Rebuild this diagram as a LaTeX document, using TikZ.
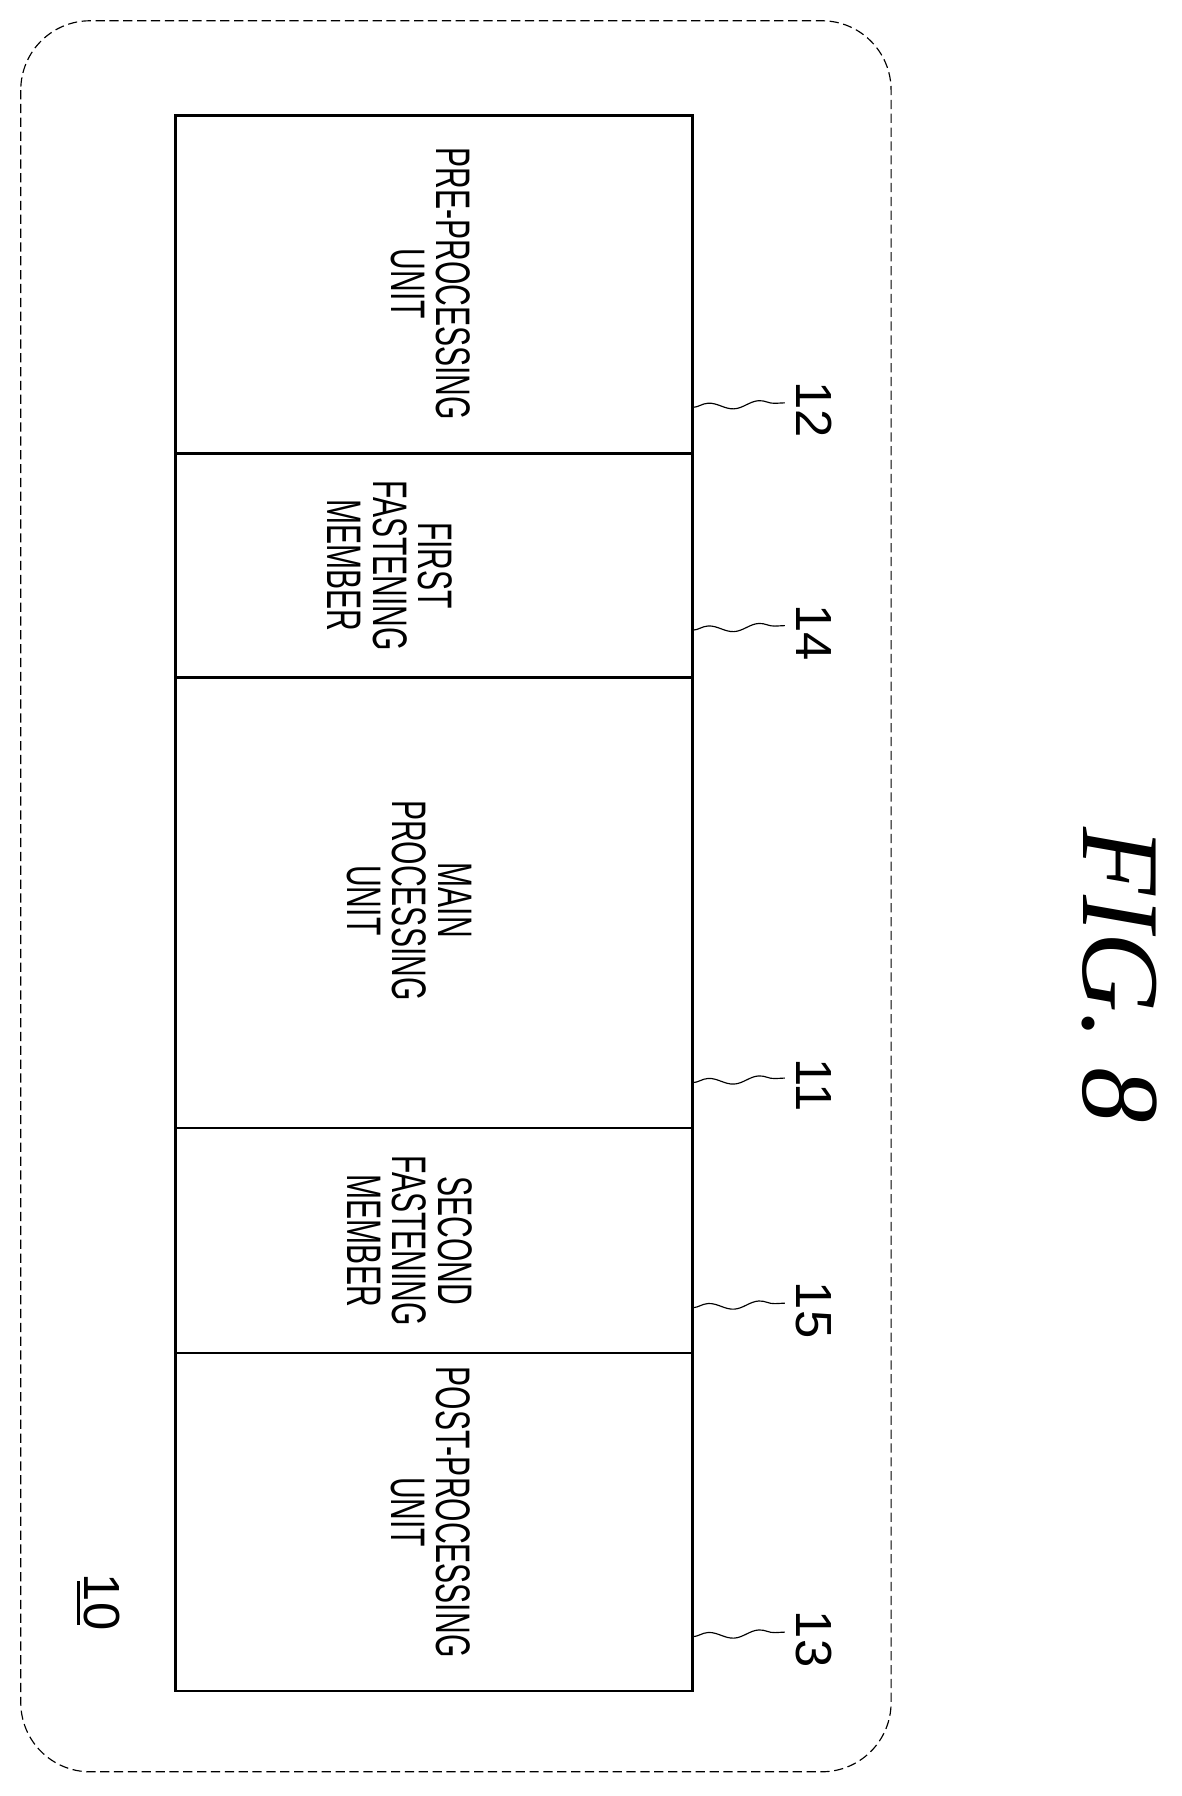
\documentclass[tikz,border=0pt]{standalone}
\usepackage{fontspec}
\setmainfont{Liberation Sans}
\newfontfamily\figfont{Liberation Serif}
\usetikzlibrary{decorations.pathmorphing}
\newcommand{\cond}[1]{\scalebox{0.62}[1]{\begin{tabular}{c}#1\end{tabular}}}
\tikzset{
  lbl/.style={rotate=-90, font=\fontsize{21}{17}\selectfont, inner sep=0pt},
  num/.style={rotate=-90, font=\fontsize{22}{22}\selectfont, inner sep=0pt},
  lead/.style={decorate, decoration={snake, amplitude=1.5pt, segment length=22pt}, line width=0.5pt},
  box/.style={draw, line width=1pt}
}
\begin{document}
\begin{tikzpicture}[x=0.5pt,y=-0.5pt]
\useasboundingbox (0,0) rectangle (1024,1556);
\draw[dash pattern=on 4pt off 2pt, line width=0.5pt, rounded corners=30pt] (18,18) rectangle (772,1535);
\node[box, minimum width=224pt, minimum height=146.5pt, inner sep=0pt] (pre) at (376,246.5) {};
\node[box, minimum width=224pt, minimum height=97pt, inner sep=0pt] (f1) at (376,490) {};
\node[box, minimum width=224pt, minimum height=195pt, inner sep=0pt] (main) at (376,782) {};
\node[box, minimum width=224pt, minimum height=97.5pt, inner sep=0pt] (f2) at (376,1074.5) {};
\node[box, minimum width=224pt, minimum height=146.5pt, inner sep=0pt] (post) at (376,1318.5) {};
\node[lbl] (tpre) at (368,246) {\cond{PRE-PROCESSING\\UNIT}};
\node[lbl] (tf1) at (333,490) {\cond{FIRST\\FASTENING\\MEMBER}};
\node[lbl] (tmain) at (350,780) {\cond{MAIN\\PROCESSING\\UNIT}};
\node[lbl] (tf2) at (350,1075) {\cond{SECOND\\FASTENING\\MEMBER}};
\node[lbl] (tpost) at (368,1310) {\cond{POST-PROCESSING\\UNIT}};
\foreach \n/\y in {12/355,14/548,11/940,15/1135,13/1420}{
  \node[num] (n\n) at (705,\y) {\n};
  \coordinate (c\n) at (600,\y-2);
  \coordinate (e\n) at (680,\y-6);
  \draw[lead] (c\n) -- (e\n);
}
\node[num] (n10) at (88,1388) {10};
\draw[line width=1pt] (68,1370) -- (68,1408);
\node[rotate=-90, font=\figfont\itshape\fontsize{48}{48}\selectfont, inner sep=0pt] (fig) at (970,845) {FIG. 8};
\end{tikzpicture}
\end{document}
